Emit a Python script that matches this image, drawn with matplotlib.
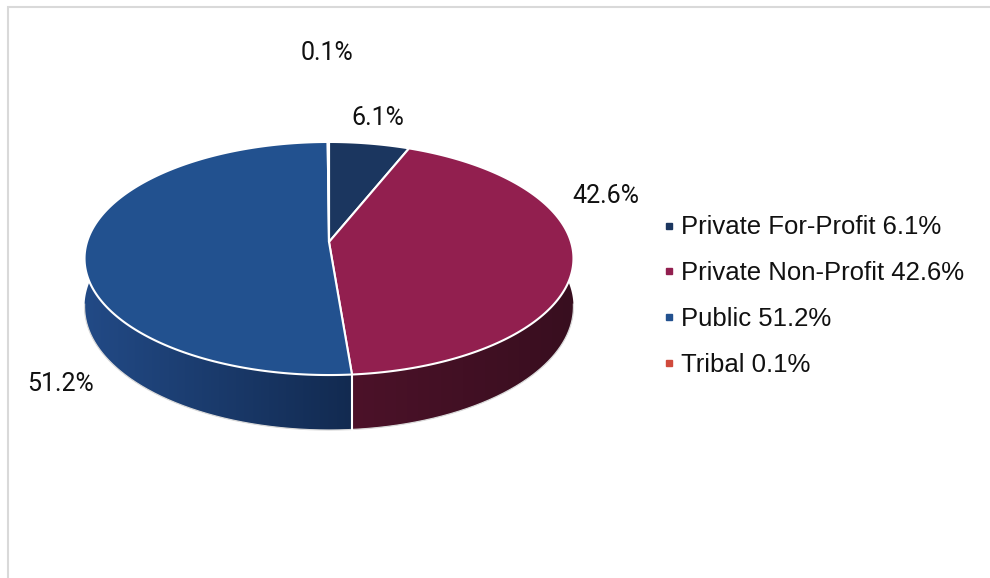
import numpy as np
import matplotlib
matplotlib.use("Agg")
import matplotlib.pyplot as plt
from matplotlib.patches import Polygon
from matplotlib.lines import Line2D
from matplotlib.colors import to_rgb

# ---- data ----
categories = ["Private For-Profit", "Private Non-Profit", "Public", "Tribal"]
values = [6.1, 42.6, 51.2, 0.1]

# ---- styles ----
top_colors = ["#1B365F", "#921F4F", "#22518F", "#D04A3C"]
wall_left_colors = ["#172e52", "#4c1229", "#224a86", "#a33a2f"]
wall_right_colors = ["#10233f", "#380e1f", "#122a50", "#7a2a22"]
legend_colors = ["#1B365F", "#921F4F", "#22518F", "#D04A3C"]

W, H = 990, 578
fig = plt.figure(figsize=(W / 100, H / 100), dpi=100)
ax = fig.add_axes([0, 0, 1, 1])
ax.set_xlim(0, W)
ax.set_ylim(H, 0)
ax.axis("off")

# perspective pie geometry (layout)
CX, CY = 329.0, 242.0
A, B, K, DEPTH = 242.0, 114.2, 0.1416, 47.2


def proj(phi, drop=0.0):
    u = np.sin(phi)
    v = -np.cos(phi)
    w = 1 - K * v
    return CX + A * u / w, CY + (B * v + drop) / w


total = float(sum(values))
fractions = np.array(values) / total
bounds = np.concatenate([[0.0], np.cumsum(fractions)]) * 2 * np.pi

# ---- walls (gradient fill clipped to each slice's side band) ----
for i in range(len(values)):
    a0, a1 = bounds[i], bounds[i + 1]
    n = max(4, int(np.ceil((a1 - a0) / (2 * np.pi) * 720)))
    ph = np.linspace(a0, a1, n + 1)
    xt, yt = proj(ph)
    xb, yb = proj(ph, DEPTH)
    pts = list(zip(xt, yt)) + list(zip(xb[::-1], yb[::-1]))
    band = Polygon(pts, closed=True, facecolor="none", edgecolor="none")
    ax.add_patch(band)
    xmin, xmax = min(xt.min(), xb.min()), max(xt.max(), xb.max())
    ymin, ymax = min(yt.min(), yb.min()), max(yt.max(), yb.max())
    cl = np.array(to_rgb(wall_left_colors[i]))
    cr = np.array(to_rgb(wall_right_colors[i]))
    t = np.linspace(0, 1, 256)[None, :, None]
    grad = cl[None, None, :] * (1 - t) + cr[None, None, :] * t
    grad = np.repeat(grad, 2, axis=0)
    im = ax.imshow(grad, extent=(xmin - 1, xmax + 1, ymax + 1, ymin - 1),
                   aspect="auto", interpolation="bilinear", zorder=1)
    im.set_clip_path(band)

ax.set_xlim(0, W)
ax.set_ylim(H, 0)

# outline of wall bottom
phf = np.linspace(0, 2 * np.pi, 1441)
xb, yb = proj(phf, DEPTH)
front = (-np.cos(phf)) > K - 0.02
ax.plot(np.where(front, xb, np.nan), np.where(front, yb, np.nan),
        color="#dadada", lw=0.9, zorder=2)

# vertical boundary lines on the front walls
for b in bounds[:-1]:
    if -np.cos(b) > K:
        x0, y0 = proj(b)
        x1, y1 = proj(b, DEPTH)
        ax.plot([x0, x1], [y0, y1], color="white", lw=1.5, zorder=2)

# ---- top faces ----
for i in range(len(values)):
    a0, a1 = bounds[i], bounds[i + 1]
    n = max(4, int(np.ceil((a1 - a0) / (2 * np.pi) * 720)))
    ph = np.linspace(a0, a1, n + 1)
    xt_, yt_ = proj(ph)
    pts = [(CX, CY)] + list(zip(xt_, yt_))
    ax.add_patch(Polygon(pts, closed=True, facecolor=top_colors[i],
                         edgecolor="white", lw=1.5, joinstyle="round", zorder=3))

# ---- data labels ----
label_pos = [(378, 118), (606, 196), (61, 384), (327, 53)]
for v, (lx, ly) in zip(values, label_pos):
    ax.text(lx, ly, f"{v:.1f}%", ha="center", va="center", fontsize=18,
            family=["Roboto", "DejaVu Sans"], color="#111111", zorder=5)

# ---- legend ----
handles = [Line2D([], [], marker="s", linestyle="none", markersize=5,
                  markerfacecolor=c, markeredgecolor=c) for c in legend_colors]
labels = [f"{c} {v:.1f}%" for c, v in zip(categories, values)]
ax.legend(handles, labels, loc="upper left", bbox_to_anchor=(662, 215.5),
          bbox_transform=ax.transData, frameon=False,
          prop={"family": ["Liberation Sans", "DejaVu Sans"], "size": 18.5},
          handlelength=0.52, handletextpad=0.22, labelspacing=0.845,
          borderpad=0, borderaxespad=0, labelcolor="#111111")

# ---- chart border ----
ax.plot([8, 8, W + 5], [H + 5, 7, 7], color="#d9d9d9", lw=1.5, zorder=0,
        solid_joinstyle="miter", clip_on=False)

fig.savefig("out.png", dpi=100)
